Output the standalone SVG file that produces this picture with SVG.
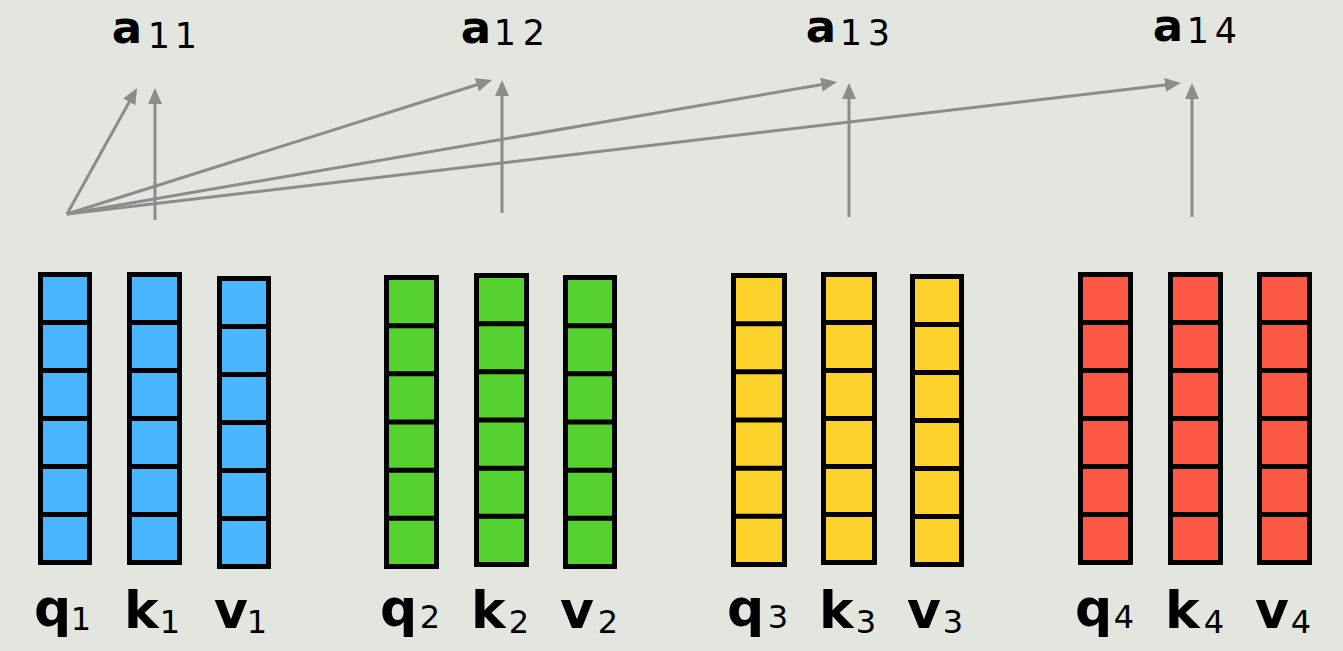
<svg xmlns="http://www.w3.org/2000/svg" width="1343" height="651" viewBox="0 0 1343 651">
<defs>
<style>
.bg{fill:#e2e6df}
.col{stroke:#000;stroke-width:5}
.div{stroke:#000;stroke-width:5}
.blue{fill:#48b6fc}
.green{fill:#55d22f}
.yellow{fill:#fdd22b}
.red{fill:#fe5944}
.conn{stroke:#8c8c8a;stroke-width:3;fill:none;marker-end:url(#ah)}
.big{font-family:"DejaVu Sans",sans-serif;font-weight:bold;fill:#000}
.sub{font-family:"DejaVu Sans",sans-serif;fill:#000}
.al{font-size:45px;text-anchor:middle}
.as{font-size:35px;text-anchor:middle}
.bl{font-size:52px}
.bs{font-size:32px;text-anchor:end}
</style>
<marker id="ah" viewBox="0 0 16 14" refX="10" refY="7" markerWidth="16" markerHeight="14" markerUnits="userSpaceOnUse" orient="auto">
<path d="M0,0 L16,7 L0,14 z" fill="#8c8c8a"/>
</marker>
</defs>
<rect class="bg" x="0" y="0" width="1343" height="651"/>

<g id="connectors">
<line class="conn" x1="67" y1="214" x2="134.1" y2="93.2"/>
<line class="conn" x1="155" y1="220" x2="155" y2="94"/>
<line class="conn" x1="67" y1="214" x2="486.3" y2="81.8"/>
<line class="conn" x1="502" y1="213" x2="502" y2="86"/>
<line class="conn" x1="67" y1="214" x2="831.1" y2="83"/>
<line class="conn" x1="849" y1="217" x2="849" y2="89"/>
<line class="conn" x1="67" y1="214" x2="1175" y2="83.7"/>
<line class="conn" x1="1192" y1="217" x2="1192" y2="89"/>
</g>

<g id="a11"><text class="big al" x="127" y="43">a</text><text class="sub as" x="159" y="48">1</text><text class="sub as" x="186" y="48">1</text></g>
<g id="a12"><text class="big al" x="476" y="43">a</text><text class="sub as" x="505" y="45">1</text><text class="sub as" x="534" y="45">2</text></g>
<g id="a13"><text class="big al" x="821" y="42">a</text><text class="sub as" x="851" y="45">1</text><text class="sub as" x="879" y="45">3</text></g>
<g id="a14"><text class="big al" x="1168" y="41">a</text><text class="sub as" x="1198" y="43">1</text><text class="sub as" x="1226" y="43">4</text></g>

<g id="q1"><rect class="col blue" x="40.5" y="274.5" width="49" height="288"/><path class="div" d="M38 322.5H92M38 370.5H92M38 418.5H92M38 466.5H92M38 514.5H92"/>
<text class="big bl" x="34" y="626">q</text><text class="sub bs" x="91" y="630">1</text></g>
<g id="k1"><rect class="col blue" x="129.5" y="274.5" width="50" height="288"/><path class="div" d="M127 322.5H182M127 370.5H182M127 418.5H182M127 466.5H182M127 514.5H182"/>
<text class="big bl" x="124" y="628">k</text><text class="sub bs" x="180" y="633">1</text></g>
<g id="v1"><rect class="col blue" x="219.5" y="278.5" width="49" height="288"/><path class="div" d="M217 326.5H271M217 374.5H271M217 422.5H271M217 470.5H271M217 518.5H271"/>
<text class="big bl" x="214" y="628">v</text><text class="sub bs" x="267" y="633">1</text></g>

<g id="q2"><rect class="col green" x="386.5" y="277.5" width="50" height="289"/><path class="div" d="M384 325.7H439M384 373.8H439M384 422H439M384 470.2H439M384 518.3H439"/>
<text class="big bl" x="380" y="626">q</text><text class="sub bs" x="440" y="628">2</text></g>
<g id="k2"><rect class="col green" x="476.5" y="275.5" width="50" height="289"/><path class="div" d="M474 323.7H529M474 371.8H529M474 420H529M474 468.2H529M474 516.3H529"/>
<text class="big bl" x="471" y="628">k</text><text class="sub bs" x="529" y="633">2</text></g>
<g id="v2"><rect class="col green" x="565.5" y="277.5" width="49" height="289"/><path class="div" d="M563 325.7H617M563 373.8H617M563 422H617M563 470.2H617M563 518.3H617"/>
<text class="big bl" x="560" y="628">v</text><text class="sub bs" x="618" y="633">2</text></g>

<g id="q3"><rect class="col yellow" x="733.5" y="275.5" width="51" height="289"/><path class="div" d="M731 323.7H787M731 371.8H787M731 420H787M731 468.2H787M731 516.3H787"/>
<text class="big bl" x="727" y="626">q</text><text class="sub bs" x="788" y="628">3</text></g>
<g id="k3"><rect class="col yellow" x="823.5" y="274.5" width="51" height="288"/><path class="div" d="M821 322.5H877M821 370.5H877M821 418.5H877M821 466.5H877M821 514.5H877"/>
<text class="big bl" x="819" y="628">k</text><text class="sub bs" x="876" y="633">3</text></g>
<g id="v3"><rect class="col yellow" x="912.5" y="276.5" width="49" height="288"/><path class="div" d="M910 324.5H964M910 372.5H964M910 420.5H964M910 468.5H964M910 516.5H964"/>
<text class="big bl" x="907" y="628">v</text><text class="sub bs" x="963" y="633">3</text></g>

<g id="q4"><rect class="col red" x="1080.5" y="274.5" width="50" height="288"/><path class="div" d="M1078 322.5H1133M1078 370.5H1133M1078 418.5H1133M1078 466.5H1133M1078 514.5H1133"/>
<text class="big bl" x="1075" y="626">q</text><text class="sub bs" x="1134" y="628">4</text></g>
<g id="k4"><rect class="col red" x="1170.5" y="274.5" width="50" height="288"/><path class="div" d="M1168 322.5H1223M1168 370.5H1223M1168 418.5H1223M1168 466.5H1223M1168 514.5H1223"/>
<text class="big bl" x="1165" y="628">k</text><text class="sub bs" x="1224" y="633">4</text></g>
<g id="v4"><rect class="col red" x="1259.5" y="274.5" width="50" height="288"/><path class="div" d="M1257 322.5H1312M1257 370.5H1312M1257 418.5H1312M1257 466.5H1312M1257 514.5H1312"/>
<text class="big bl" x="1255" y="628">v</text><text class="sub bs" x="1311" y="633">4</text></g>
</svg>
